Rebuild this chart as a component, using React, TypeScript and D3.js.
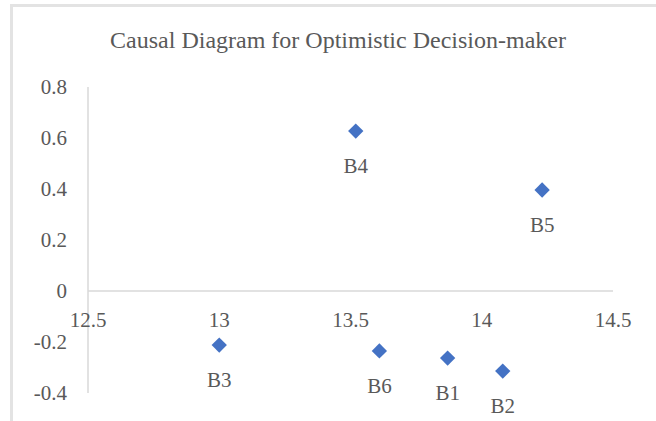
import React from "react";
import * as d3 from "d3";

const labels = ["B1", "B2", "B3", "B4", "B5", "B6"];
const xValues = [13.87, 14.08, 13.0, 13.52, 14.23, 13.61];
const yValues = [-0.263, -0.314, -0.212, 0.627, 0.396, -0.235];
const xTicks = [12.5, 13, 13.5, 14, 14.5];
const yTicks = [-0.4, -0.2, 0, 0.2, 0.4, 0.6, 0.8];
const title = "Causal Diagram for Optimistic Decision-maker";

const W = 656;
const H = 421;
const FONT = "'Liberation Serif', 'Times New Roman', serif";
const TEXT = "#595959";
const AXIS = "#d9d9d9";
const MARK = "#4472C4";

export default function App() {
  const x = d3.scaleLinear().domain([12.5, 14.5]).range([88, 613]);
  const y = d3.scaleLinear().domain([-0.4, 0.8]).range([393, 87]);
  const diamond = d3.symbol().type(d3.symbolDiamond2).size(150)();

  return (
    <div style={{ position: "fixed", left: 0, top: 0 }}>
      <svg width={W} height={H} style={{ display: "block", background: "#fff", fontFamily: FONT }}>
        {/* chart frame */}
        <rect x={11.5} y={5.5} width={W + 20} height={H + 20} fill="none" stroke="#e3e3e3" strokeWidth={3} />

        <text x={338} y={48} textAnchor="middle" fontSize={24} fill={TEXT}>
          {title}
        </text>

        {/* axes */}
        <line x1={x(12.5)} x2={x(12.5)} y1={y(0.8)} y2={y(-0.4)} stroke={AXIS} strokeWidth={1.5} />
        <line x1={x(12.5)} x2={x(14.5)} y1={y(0)} y2={y(0)} stroke={AXIS} strokeWidth={1.5} />

        {yTicks.map((t) => (
          <text key={"y" + t} x={67} y={y(t)} dy="0.33em" textAnchor="end" fontSize={21} fill={TEXT}>
            {String(t)}
          </text>
        ))}
        {xTicks.map((t) => (
          <text key={"x" + t} x={x(t)} y={y(0) + 36} textAnchor="middle" fontSize={21} fill={TEXT}>
            {String(t)}
          </text>
        ))}

        {labels.map((l, i) => (
          <g key={l} transform={`translate(${x(xValues[i])},${y(yValues[i])})`}>
            <path d={diamond || ""} fill={MARK} />
            <text y={42} textAnchor="middle" fontSize={21} fill={TEXT}>
              {l}
            </text>
          </g>
        ))}
      </svg>
    </div>
  );
}
